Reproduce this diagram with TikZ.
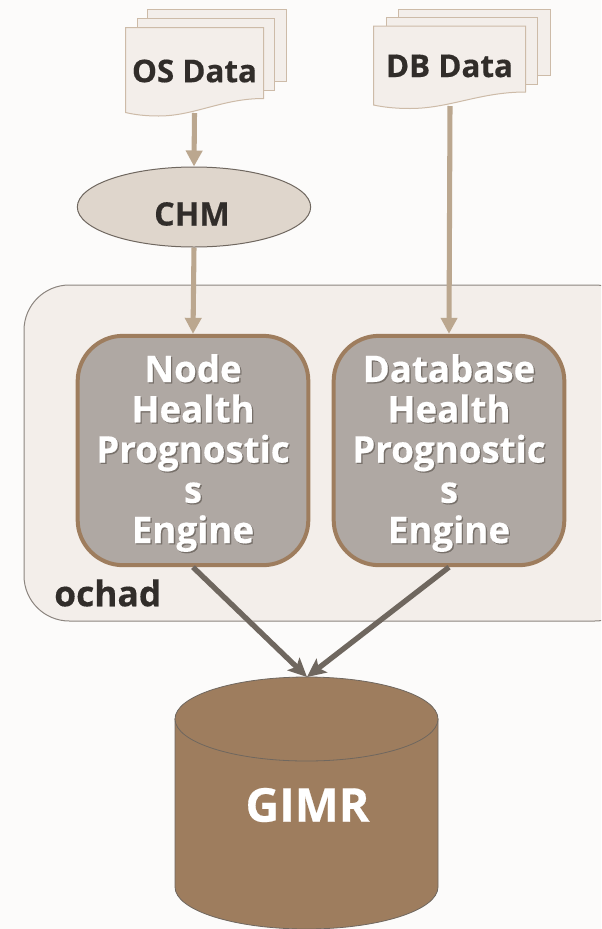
\documentclass[tikz,border=0pt]{standalone}
\usepackage{fontspec}
\setmainfont{Open Sans}[BoldFeatures={FakeBold=0.4}]
\usetikzlibrary{arrows.meta,shapes.geometric}
\definecolor{bgc}{HTML}{FCFBFA}
\definecolor{panelc}{HTML}{F3EEEA}
\definecolor{docline}{HTML}{CDBBA8}
\definecolor{tanarrow}{HTML}{BBA78F}
\definecolor{ellc}{HTML}{DFD6CC}
\definecolor{boxc}{HTML}{AFA8A3}
\definecolor{brownc}{HTML}{9E7D5E}
\definecolor{darkt}{HTML}{312D2A}
\definecolor{grayarrow}{HTML}{6F675F}
\definecolor{shadowc}{HTML}{77706A}
\tikzset{
  x=0.75pt,y=-0.75pt,
  docshape/.style={draw=docline,fill=panelc,line width=0.75pt},
  doclabel/.style={font=\bfseries\fontsize{23.5pt}{26pt}\selectfont,text=darkt,inner sep=0pt},
  tanlink/.style={draw=tanarrow,line width=3.8pt,-{Triangle[length=12pt,width=12pt]}},
  graylink/.style={draw=grayarrow,line width=4pt,-{Stealth[length=14pt,width=13pt,inset=3pt]}},
  enginebox/.style={draw=brownc,fill=boxc,line width=3pt,rounded corners=34pt,minimum width=173pt,minimum height=172pt,inner sep=0pt},
  enginetext/.style={font=\bfseries\fontsize{27.5pt}{30.2pt}\selectfont,align=center,text=white,inner sep=0pt},
  engineshade/.style={font=\bfseries\fontsize{27.5pt}{30.2pt}\selectfont,align=center,text=shadowc,inner sep=0pt},
}
\newcommand{\dockpage}[5]{% x1,y1,x2,y2 right,y bottom left
  \path[docshape] (#1,#2) -- (#3,#2) -- (#3,#4) .. controls ({#3-0.3*(#3-#1)},#4) and ({#1+0.5*(#3-#1)},#5+3.5) .. ({#1+0.24*(#3-#1)},#5+3.5) .. controls ({#1+0.14*(#3-#1)},#5+3.5) and ({#1+0.06*(#3-#1)},#5+2) .. (#1,#5) -- cycle;
}
\begin{document}
\begin{tikzpicture}
\useasboundingbox (0,0) rectangle (601,929);
\clip (0,0) rectangle (601,929);
\fill[bgc] (0,0) rectangle (601,929);
% ochad panel
\draw[draw=grayarrow!80,fill=panelc,line width=0.75pt,rounded corners=34pt] (24,285) rectangle (640,621);
\node[anchor=west,font=\bfseries\fontsize{26.5pt}{28pt}\selectfont,text=darkt,inner sep=0pt] (ochad) at (54,593) {ochad};
% OS data pages
\path[docshape] (147.5,9) rectangle (286,81);
\path[docshape] (137,18) rectangle (274,90);
\dockpage{125.5}{27.5}{263.5}{98.5}{112.5}
\coordinate (osbottom) at (194.5,113);
\node[doclabel] (osdata) at (194.5,71) {OS Data};
% DB data pages
\path[docshape] (398,9) rectangle (550,75);
\path[docshape] (386,17.5) rectangle (537,84);
\dockpage{373.5}{26}{525.5}{92}{105}
\coordinate (dbbottom) at (450,106);
\node[doclabel] (dbdata) at (449.5,66) {DB Data};
% CHM
\node[ellipse,draw=grayarrow,fill=ellc,line width=0.75pt,minimum width=175pt,minimum height=60pt,inner sep=0pt] (chm) at (194,207) {};
\node[font=\bfseries\fontsize{24.2pt}{26pt}\selectfont,text=darkt,inner sep=0pt] (chmlabel) at (192,214) {CHM};
% engine boxes
\node[enginebox] (nodebox) at (193,450.5) {};
\node[enginebox] (dbbox) at (449,450.5) {};
\node[engineshade] (nodeshade) at (194.3,454.3) {Node\\Health\\Prognostic\\s\\Engine};
\node[enginetext] (nodetext) at (193,453) {Node\\Health\\Prognostic\\s\\Engine};
\node[engineshade] (dbshade) at (450.3,454.3) {Database\\Health\\Prognostic\\s\\Engine};
\node[enginetext] (dbtext) at (449,453) {Database\\Health\\Prognostic\\s\\Engine};
% GIMR cylinder
\draw[draw=grayarrow,fill=brownc,line width=0.6pt] (175,719) -- (175,887) arc[start angle=180,end angle=360,x radius=131.5,y radius=-42] -- (438,719) -- cycle;
\draw[draw=grayarrow,fill=brownc,line width=0.6pt] (306.5,719) ellipse[x radius=131.5,y radius=42];
\node[font=\bfseries\fontsize{35pt}{40pt}\selectfont,text=white,inner sep=0pt] (gimr) at (307.5,805) {GIMR};
\coordinate (gimrtop) at (307,677);
% connectors
\draw[tanlink] (osbottom) -- (chm.north);
\draw[tanlink] (chm.south) -- (nodebox.north);
\draw[tanlink] (dbbottom) -- (dbbox.north);
\draw[graylink] (nodebox.south) -- (gimrtop);
\draw[graylink] (dbbox.south) -- (gimrtop);
\end{tikzpicture}
\end{document}
